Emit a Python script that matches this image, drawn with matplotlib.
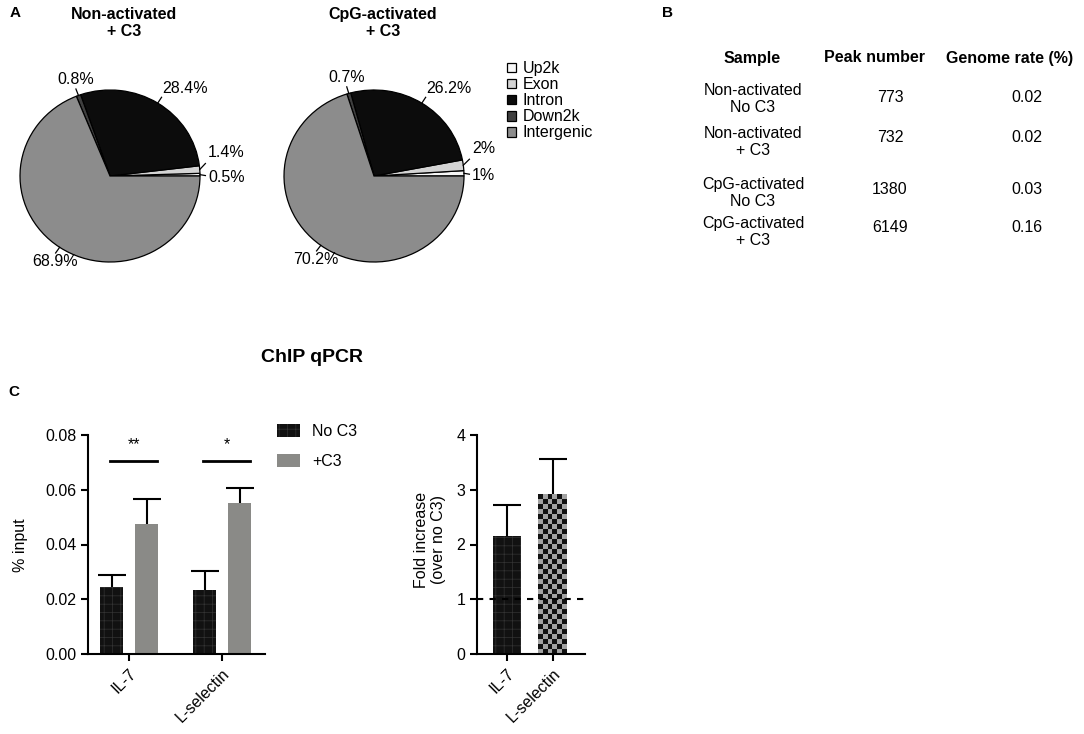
import numpy as np
import matplotlib
matplotlib.use("Agg")
import matplotlib.pyplot as plt
from matplotlib.colors import ListedColormap
from matplotlib.patches import Patch

plt.rcParams['font.family'] = ['Liberation Sans', 'DejaVu Sans']
plt.rcParams['hatch.linewidth'] = 0.5

# ---- data ----
regions = ['Up2k', 'Exon', 'Intron', 'Down2k', 'Intergenic']
region_colors = ['#f7f7f7', '#d4d4d4', '#0c0c0c', '#3f3f3f', '#8c8c8c']
pie_titles = ['Non-activated\n+ C3', 'CpG-activated\n+ C3']
pie_nonact = [0.5, 1.4, 28.4, 0.8, 68.9]
pie_cpg = [1.0, 2.0, 26.2, 0.7, 70.2]
pie_labels_nonact = ['0.5%', '1.4%', '28.4%', '0.8%', '68.9%']
pie_labels_cpg = ['1%', '2%', '26.2%', '0.7%', '70.2%']

tbl_header = ['Sample', 'Peak number', 'Genome rate (%)']
tbl_sample = ['Non-activated\nNo C3', 'Non-activated\n+ C3', 'CpG-activated\nNo C3', 'CpG-activated\n+ C3']
tbl_peaks = ['773', '732', '1380', '6149']
tbl_rate = ['0.02', '0.02', '0.03', '0.16']

genes = ['IL-7', 'L-selectin']
noc3_mean = [0.0245, 0.0233]
noc3_err = [0.0042, 0.0070]
c3_mean = [0.0474, 0.0551]
c3_err = [0.0091, 0.0056]
sig_marks = ['**', '*']
sig_y = 0.0705

fold_mean = [2.15, 2.92]
fold_err = [0.58, 0.65]

# ---- layout helpers ----
W, H = 1084, 734
fig = plt.figure(figsize=(W / 100, H / 100), dpi=100)


def rect(x0, y0, x1, y1):
    return [x0 / W, 1 - y1 / H, (x1 - x0) / W, (y1 - y0) / H]


def ftext(x, y, s, **kw):
    return fig.text(x / W, 1 - y / H, s, **kw)


FS = 11.5

# ---- panel A: pies ----
def draw_pie(ax, vals, labels):
    wedges, _ = ax.pie(vals, colors=region_colors, startangle=0, counterclock=True,
                       wedgeprops=dict(edgecolor='black', linewidth=0.9))
    ax.set_aspect('auto')
    ax.set_xlim(-1, 1)
    ax.set_ylim(-1, 1)
    fracs = np.array(vals) / np.sum(vals)
    small = []
    for w, f, lab in zip(wedges, fracs, labels):
        th = np.deg2rad((w.theta1 + w.theta2) / 2)
        c, s = np.cos(th), np.sin(th)
        if f < 0.03 and c > 0.9:
            small.append((th, lab))
            continue
        ax.plot([c, 1.08 * c], [s, 1.08 * s], color='black', lw=0.9, clip_on=False)
        ha = 'left' if c > 0.3 else 'center'
        va = 'bottom' if s > 0 else 'top'
        ax.text(1.1 * c, 1.1 * s, lab, ha=ha, va=va, fontsize=FS)
    small.sort()
    nudges = [-0.03, 0.2]
    for (th, lab), dy in zip(small, nudges):
        c, s = np.cos(th), np.sin(th)
        ty = s + dy
        ax.plot([c, 1.06], [s, s + dy * 0.35], color='black', lw=0.9, clip_on=False)
        ax.text(1.09, ty, lab, ha='left', va='center', fontsize=FS)
    return wedges


ax1 = fig.add_axes(rect(20, 90, 200, 262))
wedges = draw_pie(ax1, pie_nonact, pie_labels_nonact)
ax2 = fig.add_axes(rect(284, 90, 464, 262))
draw_pie(ax2, pie_cpg, pie_labels_cpg)

ftext(124, 23, pie_titles[0], ha='center', va='center', fontsize=FS, fontweight='bold')
ftext(383, 23, pie_titles[1], ha='center', va='center', fontsize=FS, fontweight='bold')

fig.legend(wedges, regions, loc='upper left', bbox_to_anchor=(507 / W, 1 - 61 / H),
           frameon=False, fontsize=FS, handlelength=0.55, handleheight=0.55,
           handletextpad=0.45, labelspacing=0.07, borderpad=0, borderaxespad=0)

ftext(10, 13, 'A', ha='left', va='center', fontsize=11, fontweight='bold')
ftext(662, 13, 'B', ha='left', va='center', fontsize=11, fontweight='bold')
ftext(8, 392, 'C', ha='left', va='center', fontsize=11, fontweight='bold')

# ---- panel B: table ----
ftext(752, 58, tbl_header[0], ha='center', va='center', fontsize=FS, fontweight='bold')
ftext(875, 58, tbl_header[1], ha='center', va='center', fontsize=FS, fontweight='bold')
ftext(1010, 58, tbl_header[2], ha='center', va='center', fontsize=FS, fontweight='bold')
row_y = [99, 142, 193, 232]
num_y = [98, 138, 189, 227]
for ry, ny, samp, pk, rt in zip(row_y, num_y, tbl_sample, tbl_peaks, tbl_rate):
    ftext(753, ry, samp, ha='center', va='center', fontsize=FS, linespacing=1.1)
    ftext(890, ny, pk, ha='center', va='center', fontsize=FS)
    ftext(1027, ny, rt, ha='center', va='center', fontsize=FS)

# ---- panel C ----
ftext(312, 357, 'ChIP qPCR', ha='center', va='center', fontsize=14, fontweight='bold')


def style_axis(ax):
    for sp in ['top', 'right']:
        ax.spines[sp].set_visible(False)
    for sp in ['left', 'bottom']:
        ax.spines[sp].set_linewidth(1.5)
    ax.tick_params(width=1.5, length=5, labelsize=FS)


def up_err(ax, xs, means, errs):
    # one-sided (upper) error bars, lower caps hidden
    n = len(means)
    _, caps, _ = ax.errorbar(xs, means, yerr=[np.zeros(n), errs], fmt='none',
                             ecolor='black', elinewidth=1.5, capsize=10,
                             capthick=1.5, zorder=3)
    caps[0].set_visible(False)


ax3 = fig.add_axes(rect(88, 435, 265, 654))
x = np.arange(len(genes))
off = 0.188
bw = 0.25
ax3.bar(x - off, noc3_mean, bw, color='#111111', edgecolor='#333333', linewidth=0,
        hatch='++', zorder=2, label='No C3')
up_err(ax3, x - off, noc3_mean, noc3_err)
ax3.bar(x + off, c3_mean, bw, color='#8a8a87', linewidth=0, zorder=2, label='+C3')
up_err(ax3, x + off, c3_mean, c3_err)
for xi, mark in zip(x, sig_marks):
    ax3.plot([xi - 0.2, xi + 0.3], [sig_y, sig_y], color='black', lw=2)
    ax3.text(xi + 0.05, 0.0765, mark, ha='center', va='center', fontsize=FS)
ax3.set_ylim(0, 0.08)
ax3.set_xlim(-0.441, 1.462)
ax3.set_yticks([0, 0.02, 0.04, 0.06, 0.08])
ax3.set_yticklabels(['0.00', '0.02', '0.04', '0.06', '0.08'])
ax3.set_xticks(x)
ax3.set_xticklabels(genes, rotation=45, ha='right', rotation_mode='anchor')
style_axis(ax3)
ftext(20, 545, '% input', ha='center', va='center', rotation=90, fontsize=FS)

ax3.legend(handles=[Patch(facecolor='#111111', edgecolor='#333333', hatch='++', linewidth=0),
                    Patch(facecolor='#8a8a87', linewidth=0)],
           labels=['No C3', '+C3'], loc='upper left', bbox_to_anchor=(277 / W, 1 - 424 / H),
           bbox_transform=fig.transFigure, frameon=False, fontsize=FS,
           handlelength=1.45, handleheight=0.85, handletextpad=0.75,
           labelspacing=0.95, borderpad=0, borderaxespad=0)

ax4 = fig.add_axes(rect(477, 435, 585, 654))
xf = np.arange(len(genes))
bars = ax4.bar(xf, fold_mean, 0.63, color='#111111', edgecolor='#333333', linewidth=0,
               hatch='++', zorder=2)
# checkerboard texture for the second bar
b = bars[1]
b.set_hatch('')
b.set_facecolor('none')
bx0, bh, bwid = b.get_x(), b.get_height(), b.get_width()
nrows = int(round(bh * 11))
board = np.indices((nrows, 6)).sum(axis=0) % 2
im = ax4.imshow(board, cmap=ListedColormap(['#111111', '#a2a2a2']),
                extent=(bx0, bx0 + bwid, 0, bh), aspect='auto',
                interpolation='nearest', zorder=2)
im.set_clip_path(b)
up_err(ax4, xf, fold_mean, fold_err)
ax4.axhline(1, color='black', lw=1.5, ls=(0, (3, 3)), zorder=4)
ax4.set_ylim(0, 4)
ax4.set_xlim(-0.652, 1.696)
ax4.set_yticks([0, 1, 2, 3, 4])
ax4.set_xticks(xf)
ax4.set_xticklabels(genes, rotation=45, ha='right', rotation_mode='anchor')
style_axis(ax4)
ftext(430, 540, 'Fold increase\n(over no C3)', ha='center', va='center', rotation=90,
      fontsize=FS, linespacing=1.1)

fig.savefig('out.png', dpi=100)
